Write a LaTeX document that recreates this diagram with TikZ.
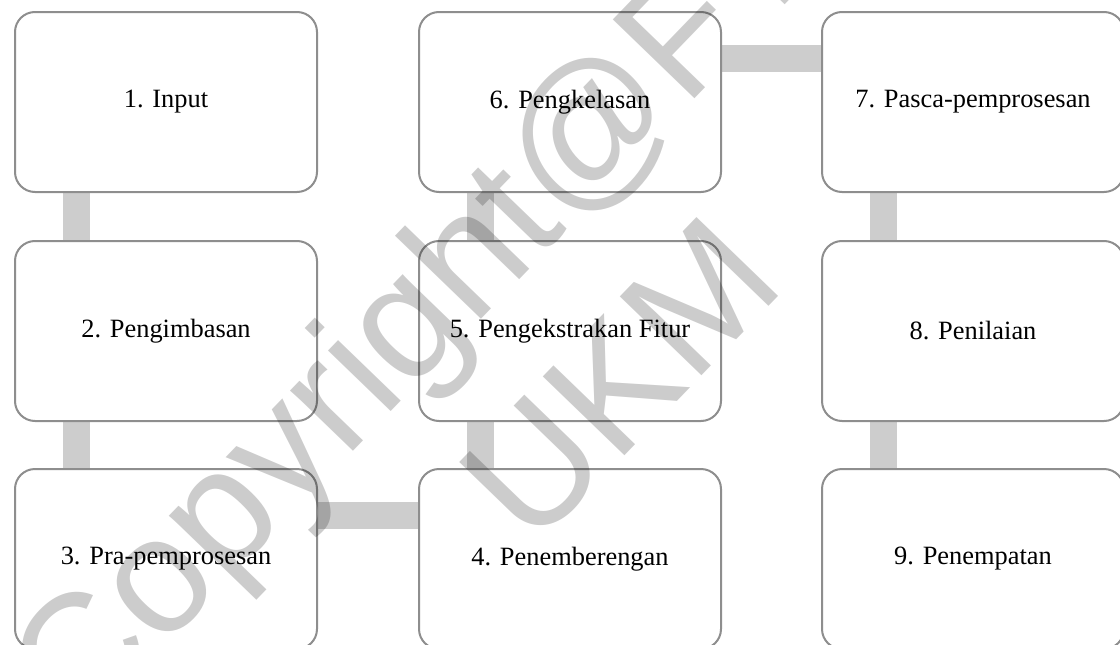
\documentclass[tikz,border=0pt]{standalone}
\usepackage{fontspec}
\IfFontExistsTF{LiberationSerif-Regular.ttf}
  {\newfontfamily\lblfont{LiberationSerif-Regular.ttf}}
  {\newfontfamily\lblfont{Liberation Serif}}
\newfontfamily\wmfont{Liberation Sans}
\usetikzlibrary{backgrounds}
\definecolor{boxline}{HTML}{8E8E8E}
\definecolor{connfill}{HTML}{CDCDCD}
\tikzset{
  stepbox/.style={draw=boxline, line width=2pt, fill=white, rounded corners=20pt,
    minimum width=302pt, minimum height=180pt, inner sep=0pt,
    font=\lblfont\fontsize{26.4}{31}\selectfont},
  conn/.style={draw=connfill, line width=27pt},
  watermark/.style={text=black, text opacity=0.2, rotate=46,
    font=\wmfont\fontsize{165}{190}\selectfont, inner sep=0pt}
}
\begin{document}
\begin{tikzpicture}[x=1pt,y=-1pt]
\useasboundingbox (0,0) rectangle (1120,645);
\clip (0,0) rectangle (1120,645);
\node[stepbox] (b1) at (166,102) {1. Input};
\node[stepbox] (b2) at (166,331) {2. Pengimbasan};
\node[stepbox] (b3) at (166,559) {3. Pra-pemprosesan};
\node[stepbox] (b4) at (570,559) {4. Penemberengan};
\node[stepbox] (b5) at (570,331) {5. Pengekstrakan Fitur};
\node[stepbox] (b6) at (570,102) {6. Pengkelasan};
\node[stepbox] (b7) at (973,102) {7. Pasca-pemprosesan};
\node[stepbox] (b8) at (973,331) {8. Penilaian};
\node[stepbox] (b9) at (973,559) {9. Penempatan};
\begin{scope}[on background layer]
\draw[conn] ([xshift=62pt]b1.south west) -- ([xshift=62pt]b2.north west);
\draw[conn] ([xshift=62pt]b2.south west) -- ([xshift=62pt]b3.north west);
\draw[conn] ([yshift=-47pt]b3.north east) -- ([yshift=-47pt]b4.north west);
\draw[conn] ([xshift=62pt]b4.north west) -- ([xshift=62pt]b5.south west);
\draw[conn] ([xshift=62pt]b5.north west) -- ([xshift=62pt]b6.south west);
\draw[conn] ([yshift=-47pt]b6.north east) -- ([yshift=-47pt]b7.north west);
\draw[conn] ([xshift=62pt]b7.south west) -- ([xshift=62pt]b8.north west);
\draw[conn] ([xshift=62pt]b8.south west) -- ([xshift=62pt]b9.north west);
\end{scope}
\node[watermark] (wm1) at (507,231) {Copyright@FTSM};
\node[watermark] (wm2) at (620,380) {UKM};
\end{tikzpicture}
\end{document}
